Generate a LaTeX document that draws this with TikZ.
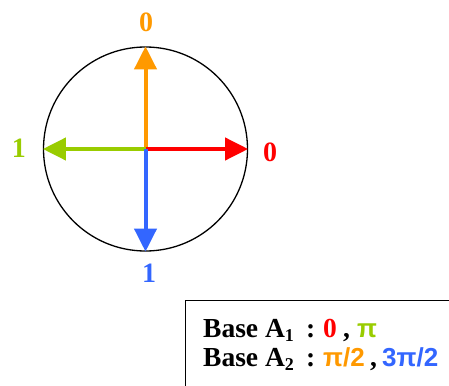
\documentclass[tikz,border=0pt]{standalone}
\usepackage{fontspec}
\setmainfont{Liberation Serif}
\newfontfamily\sansb{Liberation Sans}
\usetikzlibrary{arrows.meta}
\definecolor{cOrange}{HTML}{FF9900}
\definecolor{cRed}{HTML}{FF0000}
\definecolor{cGreen}{HTML}{99CC00}
\definecolor{cBlue}{HTML}{3366FF}
\newcommand{\pcbox}[2]{\makebox[#1pt][l]{#2}}
\newcommand{\sanspart}[1]{{\sansb\fontsize{26}{30}\selectfont\bfseries #1}}
\newcommand{\subnum}[1]{\raisebox{-4pt}{\fontsize{18}{18}\selectfont #1}}
\begin{document}
\begin{tikzpicture}[x=1pt,y=-1pt,
  vec/.style={line width=4pt,-{Triangle[length=23pt,width=22pt]}},
  lbl/.style={font=\fontsize{28}{30}\selectfont\bfseries,inner sep=0pt},
  boxtext/.style={font=\fontsize{27.5}{30}\selectfont\bfseries,inner sep=0pt,anchor=base west}]
\useasboundingbox (0,0) rectangle (449,385);
\node[draw,circle,line width=1.3pt,minimum size=204pt,inner sep=0pt] (circ) at (145.5,149) {};
\coordinate (c) at (145.5,149);
\draw[vec,cOrange] (c) -- (circ.north);
\draw[vec,cGreen] (c) -- (circ.west);
\draw[vec,cRed] (c) -- (circ.east);
\draw[vec,cBlue] (c) -- (circ.south);
\node[lbl,text=cOrange] (l0top) at (146,22) {0};
\node[lbl,text=cRed] (l0right) at (270,152) {0};
\node[lbl,text=cGreen] (l1left) at (19,148) {1};
\node[lbl,text=cBlue] (l1bottom) at (149,273) {1};
\draw[line width=1pt] (185,400) -- (185,300) -- (460,300) node (boxcorner) {};
\node[boxtext] (t1) at (203,337) {\pcbox{103}{Base A\subnum{1}}\pcbox{17}{:}\pcbox{20}{\textcolor{cRed}{0}}\pcbox{14}{,}\textcolor{cGreen}{\sanspart{π}}};
\node[boxtext] (t2) at (203,366) {\pcbox{103}{Base A\subnum{2}}\pcbox{17}{:}\pcbox{47}{\textcolor{cOrange}{\sanspart{π/2}}}\pcbox{12}{,}\textcolor{cBlue}{\sanspart{3π/2}}};
\end{tikzpicture}
\end{document}
